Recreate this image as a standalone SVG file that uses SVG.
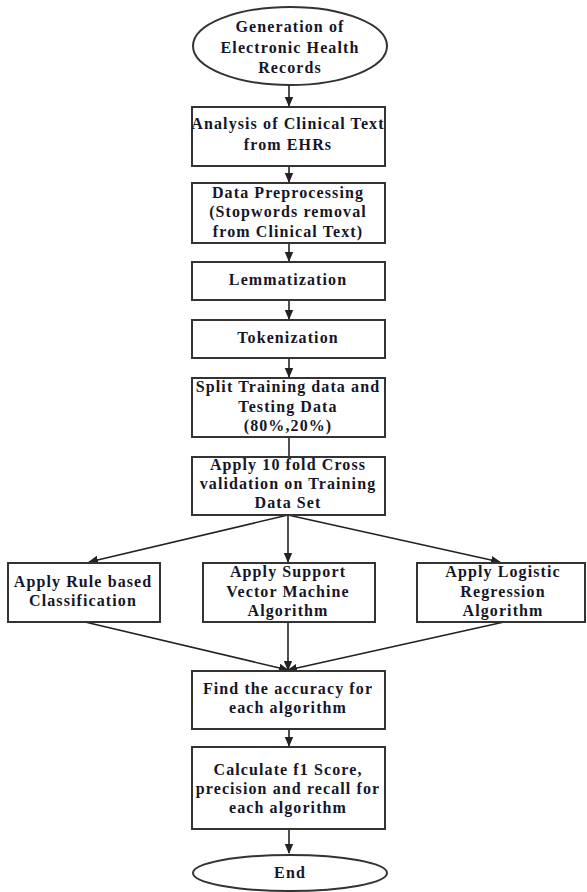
<svg xmlns="http://www.w3.org/2000/svg" width="587" height="892" viewBox="0 0 587 892">
<defs>
<style>
.box{fill:#fff;stroke:#333;stroke-width:2}
.t{font-family:"Liberation Serif","Times New Roman",serif;font-weight:bold;font-size:16px;letter-spacing:1.1px;fill:#161628;text-anchor:middle}
.c{stroke:#222;stroke-width:1.6;fill:none}
</style>
<marker id="ah" markerWidth="10" markerHeight="10" refX="9" refY="5" orient="auto" markerUnits="userSpaceOnUse">
<path d="M0,0.8 L10,5 L0,9.2 Z" fill="#222"/>
</marker>
</defs>
<rect width="587" height="892" fill="#fff"/>
<g id="connectors">
<line class="c" x1="289" y1="85" x2="289" y2="106" marker-end="url(#ah)"/>
<line class="c" x1="289" y1="166" x2="289" y2="182" marker-end="url(#ah)"/>
<line class="c" x1="289" y1="243" x2="289" y2="261" marker-end="url(#ah)"/>
<line class="c" x1="289" y1="300" x2="289" y2="319" marker-end="url(#ah)"/>
<line class="c" x1="289" y1="358" x2="289" y2="377" marker-end="url(#ah)"/>
<line class="c" x1="289" y1="437" x2="289" y2="457"/>
<line class="c" x1="288" y1="515" x2="89" y2="562" marker-end="url(#ah)"/>
<line class="c" x1="288" y1="515" x2="288" y2="562" marker-end="url(#ah)"/>
<line class="c" x1="288" y1="515" x2="500" y2="562" marker-end="url(#ah)"/>
<line class="c" x1="85" y1="622" x2="288" y2="670" marker-end="url(#ah)"/>
<line class="c" x1="288" y1="622" x2="288" y2="670" marker-end="url(#ah)"/>
<line class="c" x1="504" y1="622" x2="288" y2="670" marker-end="url(#ah)"/>
<line class="c" x1="289" y1="729" x2="289" y2="746" marker-end="url(#ah)"/>
<line class="c" x1="289" y1="829" x2="289" y2="853" marker-end="url(#ah)"/>
</g>
<g id="start">
<ellipse class="box" cx="290" cy="46" rx="97" ry="39"/>
<text class="t" x="290" y="32">Generation of</text>
<text class="t" x="290" y="53">Electronic Health</text>
<text class="t" x="290" y="73">Records</text>
</g>
<g id="analysis">
<rect class="box" x="192" y="107" width="193" height="59"/>
<text class="t" x="288" y="129">Analysis of Clinical Text</text>
<text class="t" x="288" y="150">from EHRs</text>
</g>
<g id="preprocessing">
<rect class="box" x="192" y="183" width="193" height="60"/>
<text class="t" x="288" y="198">Data Preprocessing</text>
<text class="t" x="288" y="217">(Stopwords removal</text>
<text class="t" x="288" y="237">from Clinical Text)</text>
</g>
<g id="lemmatization">
<rect class="box" x="192" y="262" width="193" height="38"/>
<text class="t" x="288" y="285">Lemmatization</text>
</g>
<g id="tokenization">
<rect class="box" x="192" y="320" width="193" height="38"/>
<text class="t" x="288" y="343">Tokenization</text>
</g>
<g id="split">
<rect class="box" x="192" y="378" width="193" height="59"/>
<text class="t" x="288" y="392">Split Training data and</text>
<text class="t" x="288" y="412">Testing Data</text>
<text class="t" x="288" y="431">(80%,20%)</text>
</g>
<g id="crossval">
<rect class="box" x="192" y="457" width="193" height="58"/>
<text class="t" x="288" y="470">Apply 10 fold Cross</text>
<text class="t" x="288" y="489">validation on Training</text>
<text class="t" x="288" y="508">Data Set</text>
</g>
<g id="rule">
<rect class="box" x="8" y="563" width="152" height="59"/>
<text class="t" x="83" y="587">Apply Rule based</text>
<text class="t" x="83" y="606">Classification</text>
</g>
<g id="svm">
<rect class="box" x="203" y="563" width="172" height="59"/>
<text class="t" x="288" y="577">Apply Support</text>
<text class="t" x="288" y="597">Vector Machine</text>
<text class="t" x="288" y="616">Algorithm</text>
</g>
<g id="logistic">
<rect class="box" x="417" y="563" width="168" height="59"/>
<text class="t" x="503" y="577">Apply Logistic</text>
<text class="t" x="503" y="597">Regression</text>
<text class="t" x="503" y="616">Algorithm</text>
</g>
<g id="accuracy">
<rect class="box" x="192" y="671" width="193" height="58"/>
<text class="t" x="288" y="694">Find the accuracy for</text>
<text class="t" x="288" y="713">each algorithm</text>
</g>
<g id="metrics">
<rect class="box" x="192" y="747" width="193" height="82"/>
<text class="t" x="288" y="775">Calculate f1 Score,</text>
<text class="t" x="288" y="794">precision and recall for</text>
<text class="t" x="288" y="813">each algorithm</text>
</g>
<g id="end">
<ellipse class="box" cx="290" cy="873" rx="97" ry="18"/>
<text class="t" x="290" y="878">End</text>
</g>
</svg>
